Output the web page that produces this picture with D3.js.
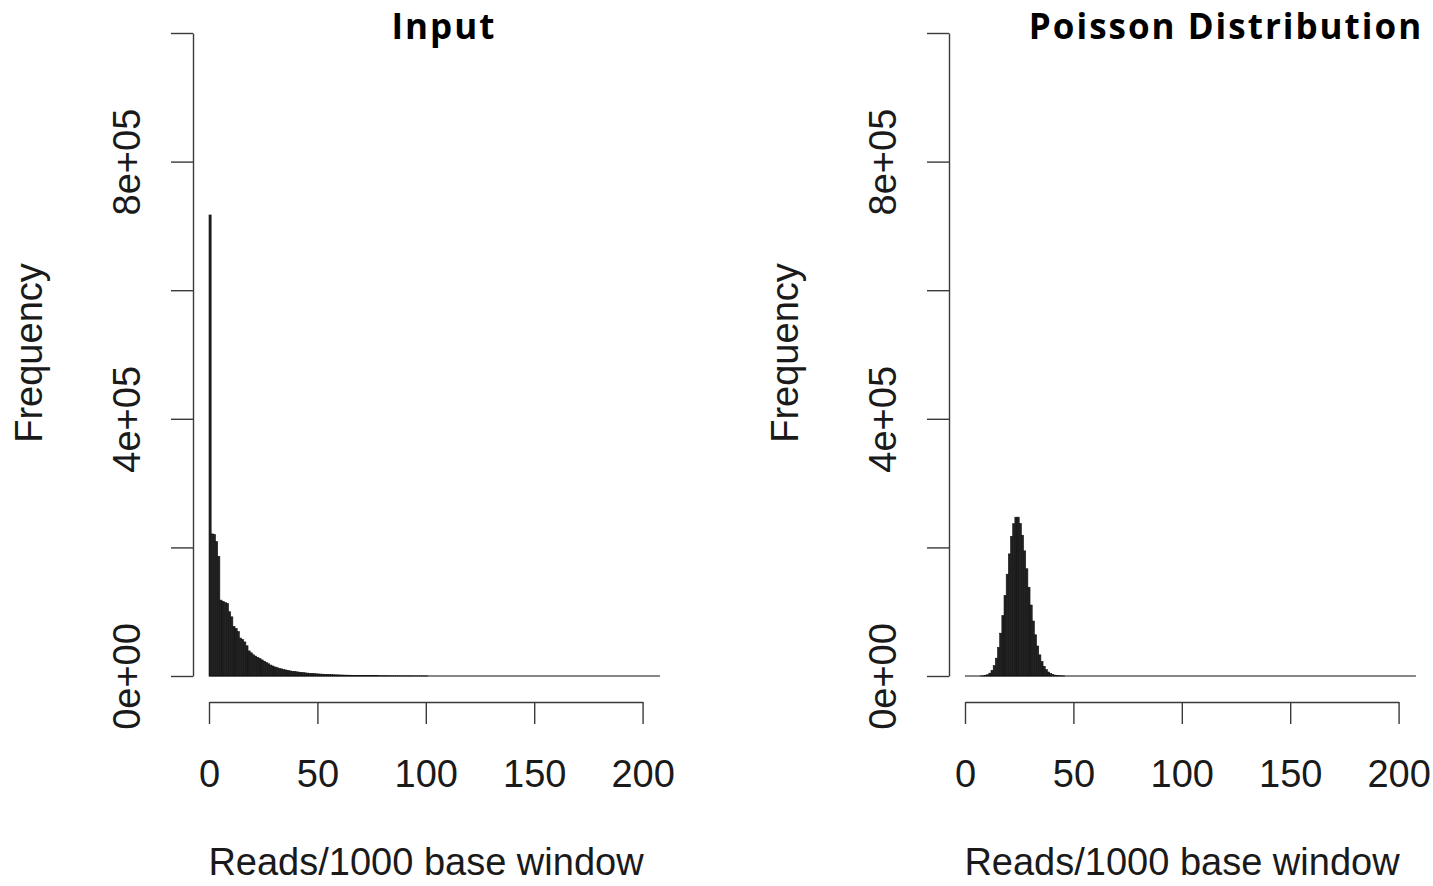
<!DOCTYPE html>
<html>
<head>
<meta charset="utf-8">
<script src="https://cdn.jsdelivr.net/npm/d3@7"></script>
<style>
  html, body { margin: 0; padding: 0; background: #ffffff; }
  svg { display: block; }
</style>
</head>
<body>
<svg id="chart" width="1433" height="886"></svg>
<script>
// ---------------- data ----------------
const panelTitles = ["Input", "Poisson Distribution"];
const xAxisTitle = "Reads/1000 base window";
const yAxisTitle = "Frequency";
const xTickValues = [0, 50, 100, 150, 200];
const yTickValues = [0, 200000, 400000, 600000, 800000, 1000000];
const yTickLabels = ["0e+00", "", "4e+05", "", "8e+05", ""];
const binCount = 208; // histogram breaks 0..208, width 1

// counts per unit bin (index = lower edge of bin), Input panel
const inputCounts = [
  717000, 221000, 220000, 209000, 186000, 118000, 116000, 114000, 113000, 100000,
  92000, 77000, 74000, 69000, 59000, 57000, 53000, 47000, 39000, 36000,
  33000, 31000, 29000, 27000, 25000, 23000, 21000, 19000, 17000, 15500,
  14000, 12900, 11900, 11000, 10100, 9300, 8600, 7900, 7300, 6900,
  6500, 6000, 5600, 5200, 4800, 4500, 4200, 3900, 3600, 3400,
  3200, 3000, 2800, 2600, 2450, 2300, 2150, 2000, 1850, 1700,
  1600, 1500, 1400, 1300, 1220, 1140, 1060, 990, 920, 860,
  800, 740, 690, 640, 600, 560, 520, 480, 450, 420,
  390, 360, 335, 310, 290, 270, 250, 230, 215, 200,
  185, 170, 158, 146, 135, 125, 115, 106, 98, 90, 83
];

// counts per unit bin (index = lower edge of bin), Poisson panel
const poissonCounts = [
  0, 0, 0, 0, 0, 0, 0, 110, 310, 840,
  2000, 4400, 8800, 16200, 27700, 44400, 66600, 94000, 125300, 158300,
  189900, 217100, 236800, 247000, 247000, 237200, 218900, 194600, 166800, 138000,
  110400, 85500, 64100, 46600, 32900, 22600, 15000, 9800, 6200, 3800,
  2300, 1330, 760, 430, 230, 120
];

// ---------------- layout ----------------
const svg = d3.select("#chart");
const panelOffset = 756;
const panels = [
  { title: panelTitles[0], counts: inputCounts, dx: 0, titleX: 443 },
  { title: panelTitles[1], counts: poissonCounts, dx: panelOffset, titleX: 1225 }
];

const x = d3.scaleLinear().domain([0, 200]).range([209, 642.6]);
const y = d3.scaleLinear().domain([0, 1000000]).range([676, 33]);

const textColor = "#1a1a1a";
const axisColor = "#3a3a3a";

panels.forEach(p => {
  const g = svg.append("g").attr("transform", `translate(${p.dx},0)`);

  // bars
  g.append("g").selectAll("rect")
    .data(p.counts.map((c, i) => ({ lo: i, hi: i + 1, c })).filter(d => d.c > 0))
    .join("rect")
    .attr("x", d => x(d.lo))
    .attr("width", d => x(d.hi) - x(d.lo))
    .attr("y", d => y(d.c))
    .attr("height", d => y(0) - y(d.c))
    .attr("fill", "#222")
    .attr("stroke", "#111")
    .attr("stroke-width", 0.6);

  // zero-height bars (R draws their borders along the baseline)
  g.append("line")
    .attr("x1", x(0)).attr("x2", x(binCount))
    .attr("y1", y(0)).attr("y2", y(0))
    .attr("stroke", "#111").attr("stroke-width", 1.2);

  // y axis
  const yAxis = g.append("g")
    .attr("transform", "translate(193,0)")
    .call(d3.axisLeft(y).tickValues(yTickValues).tickSize(22).tickSizeOuter(0)
      .tickFormat((d, i) => yTickLabels[i]));
  yAxis.select(".domain").attr("stroke", axisColor).attr("stroke-width", 1.4);
  yAxis.selectAll(".tick line").attr("stroke", axisColor).attr("stroke-width", 1.4);
  yAxis.selectAll(".tick text")
    .attr("x", null).attr("dy", null)
    .attr("text-anchor", "middle")
    .attr("transform", `translate(${140 - 193},0) rotate(-90)`)
    .attr("fill", textColor)
    .style("font-family", "'Liberation Sans', Arial, sans-serif")
    .style("font-size", "38px");

  // x axis
  const xAxis = g.append("g")
    .attr("transform", "translate(0,702)")
    .call(d3.axisBottom(x).tickValues(xTickValues).tickSize(22).tickSizeOuter(0)
      .tickFormat(d3.format("d")));
  xAxis.select(".domain").attr("stroke", axisColor).attr("stroke-width", 1.4);
  xAxis.selectAll(".tick line").attr("stroke", axisColor).attr("stroke-width", 1.4);
  xAxis.selectAll(".tick text")
    .attr("y", 787 - 702).attr("dy", 0)
    .attr("fill", textColor)
    .style("font-family", "'Liberation Sans', Arial, sans-serif")
    .style("font-size", "38px");

  // axis titles
  g.append("text")
    .attr("x", 426).attr("y", 875)
    .attr("text-anchor", "middle")
    .attr("fill", textColor)
    .style("font-family", "'Liberation Sans', Arial, sans-serif")
    .style("font-size", "38px")
    .text(xAxisTitle);

  g.append("text")
    .attr("transform", `translate(42,353) rotate(-90)`)
    .attr("text-anchor", "middle")
    .attr("fill", textColor)
    .style("font-family", "'Liberation Sans', Arial, sans-serif")
    .style("font-size", "38px")
    .text(yAxisTitle);
});

// panel titles
const titleSize = 35;
const titles = svg.selectAll("text.ptitle")
  .data(panels)
  .join("text")
  .attr("class", "ptitle")
  .attr("x", d => d.titleX)
  .attr("y", 39)
  .attr("text-anchor", "middle")
  .attr("fill", "#000")
  .style("font-family", "'Open Sans', Lato, sans-serif")
  .style("font-weight", "bold")
  .style("font-size", titleSize + "px")
  .text(d => d.title);

// widen the long title slightly (letter spacing) toward the reference width (~396px)
const longNode = titles.filter(d => d.title === panelTitles[1]).node();
const w = longNode.getComputedTextLength();
const nChars = panelTitles[1].length;
if (w > 0) {
  const ls = Math.max(0, Math.min(2, (396 - w) / (nChars - 1)));
  titles.style("letter-spacing", ls.toFixed(2) + "px")
    .attr("dx", ls / 2);
}
</script>
</body>
</html>
